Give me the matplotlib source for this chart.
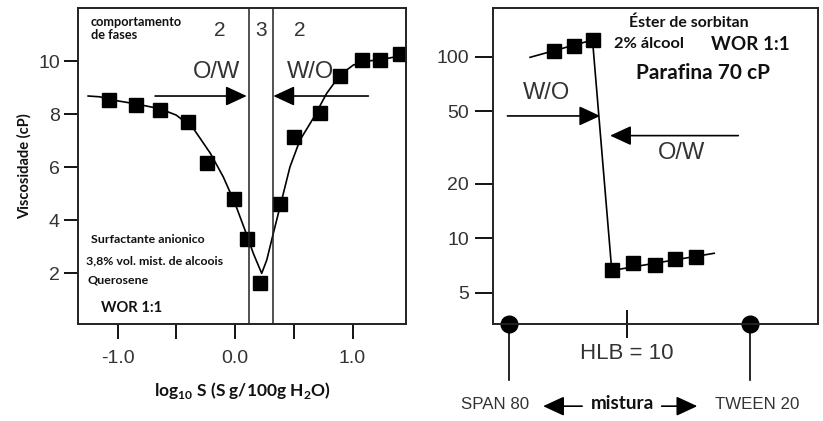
import numpy as np
import matplotlib.pyplot as plt
from matplotlib.transforms import blended_transform_factory

plt.rcParams['font.family'] = ['Liberation Sans', 'DejaVu Sans']
plt.rcParams['mathtext.fontset'] = 'custom'
plt.rcParams['mathtext.rm'] = 'Lato:bold'
plt.rcParams['mathtext.bf'] = 'Lato:bold'

# left panel: viscosity vs log10 S
log_s = [-1.07, -0.84, -0.64, -0.40, -0.24, -0.01, 0.10, 0.21, 0.38, 0.50, 0.72, 0.89, 1.08, 1.23, 1.40]
visc = [8.53, 8.34, 8.15, 7.71, 6.16, 4.79, 3.27, 1.61, 4.60, 7.14, 8.05, 9.43, 10.04, 10.04, 10.25]
# hand-drawn trend curve
curve_x = [-1.25, -1.15, -1.07, -0.84, -0.64, -0.50, -0.355, -0.21, -0.10, 0.0, 0.085, 0.156, 0.227,
           0.27, 0.326, 0.397, 0.468, 0.553, 0.666, 0.78, 0.894, 1.007, 1.12, 1.23, 1.447]
curve_y = [8.68, 8.65, 8.55, 8.38, 8.2, 7.96, 7.46, 6.52, 5.63, 4.63, 3.62, 2.74, 1.99,
           2.49, 3.50, 4.75, 6.01, 7.02, 7.84, 8.78, 9.47, 9.85, 10.0, 10.04, 10.23]
phase_bounds = [0.12, 0.32]

# right panel: viscosity vs SPAN/TWEEN mixture
mix = [0.188, 0.271, 0.346, 0.426, 0.516, 0.606, 0.689, 0.776]
visc2 = [107.8, 114.8, 123.3, 6.64, 7.28, 7.13, 7.66, 7.85]
line2_x = [0.087, 0.346, 0.426, 0.851]
line2_y = [99.0, 123.3, 6.64, 8.26]
hlb10 = 0.49

fig = plt.figure(figsize=(8.23, 4.21), dpi=100)
ax1 = fig.add_axes([0.0948, 0.2304, 0.3985, 0.7506])
ax2 = fig.add_axes([0.5987, 0.2304, 0.3956, 0.7506])

bold = dict(family=['Lato', 'DejaVu Sans'], fontweight='bold', color='#111111')
tick_col = '#333333'

# ---- left panel
ax1.plot(curve_x, curve_y, color='k', lw=1.2)
ax1.plot(log_s, visc, 's', color='k', ms=9.5)
for b in phase_bounds:
    ax1.axvline(b, color='#222222', lw=1.1)
ax1.set_xlim(-1.336, 1.455)
ax1.set_ylim(0.08, 12.0)
ax1.set_xticks([-1.0, -0.5, 0.0, 0.5, 1.0])
ax1.set_xticklabels(['-1.0', '', '0.0', '', '1.0'])
ax1.set_yticks([2, 4, 6, 8, 10])
ax1.tick_params(axis='x', direction='out', length=11, width=1.3, pad=8, labelsize=14, labelcolor=tick_col)
ax1.tick_params(axis='y', direction='out', length=10, width=1.3, pad=3, labelsize=14, labelcolor=tick_col)

arrow = dict(arrowstyle='-|>,head_length=0.65,head_width=0.3', mutation_scale=20, lw=1.2, color='k',
             shrinkA=0, shrinkB=0)
ax1.annotate('', xy=(0.10, 8.68), xytext=(-0.68, 8.68), arrowprops=arrow)
ax1.annotate('', xy=(0.326, 8.68), xytext=(1.135, 8.68), arrowprops=arrow)
ax1.text(-0.156, 9.6, 'O/W', fontsize=17, ha='center', va='center', color=tick_col)
ax1.text(0.64, 9.6, 'W/O', fontsize=17, ha='center', va='center', color=tick_col)
for xx, lab in zip([-0.13, 0.22, 0.55], ['2', '3', '2']):
    ax1.text(xx, 11.17, lab, fontsize=15, ha='center', va='center', color=tick_col)

ax1.text(0.039, 0.975, 'comportamento\nde fases', transform=ax1.transAxes, fontsize=9.2,
         ha='left', va='top', linespacing=1.15, **bold)
ax1.text(0.04, 0.268, 'Surfactante anionico', transform=ax1.transAxes, fontsize=8.9, ha='left', va='center', **bold)
ax1.text(0.025, 0.2, '3,8% vol. mist. de alcoois', transform=ax1.transAxes, fontsize=8.9, ha='left', va='center', **bold)
ax1.text(0.03, 0.138, 'Querosene', transform=ax1.transAxes, fontsize=8.9, ha='left', va='center', **bold)
ax1.text(0.07, 0.05, 'WOR 1:1', transform=ax1.transAxes, fontsize=10.6, ha='left', va='center', **bold)

ax1.set_ylabel('Viscosidade (cP)', fontsize=10.5, labelpad=5, **bold)
ax1.set_xlabel(r'log$_{\mathbf{10}}$ S (S g/100g H$_{\mathbf{2}}$O)', fontsize=12.5, labelpad=9, **bold)

# ---- right panel
ax2.set_yscale('log')
ax2.plot(line2_x, line2_y, color='k', lw=1.2)
ax2.plot(mix, visc2, 's', color='k', ms=9.5)
ax2.set_xlim(-0.068, 1.283)
ax2.set_ylim(3.37, 185)
ax2.set_yticks([5, 10, 20, 50, 100])
ax2.set_yticklabels(['5', '10', '20', '50', '100'])
ax2.minorticks_off()
ax2.set_xticks([hlb10])
ax2.set_xticklabels(['HLB = 10'])
ax2.tick_params(axis='y', direction='out', length=13, width=1.3, pad=4, labelsize=14, labelcolor=tick_col)
ax2.tick_params(axis='x', direction='inout', length=20, width=1.3, pad=4, labelsize=16, labelcolor=tick_col)

ax2.annotate('', xy=(0.378, 47.1), xytext=(-0.007, 47.1), arrowprops=arrow)
ax2.annotate('', xy=(0.419, 36.7), xytext=(0.951, 36.7), arrowprops=arrow)
ax2.text(0.156, 62.8, 'W/O', fontsize=17, ha='center', va='center', color=tick_col)
ax2.text(0.717, 29.4, 'O/W', fontsize=17, ha='center', va='center', color=tick_col)

ax2.text(0.602, 0.953, 'Éster de sorbitan', transform=ax2.transAxes, fontsize=11.4, ha='center', va='center', **bold)
ax2.text(0.48, 0.885, '2% álcool', transform=ax2.transAxes, fontsize=11.8, ha='center', va='center', **bold)
ax2.text(0.79, 0.885, 'WOR 1:1', transform=ax2.transAxes, fontsize=13.6, ha='center', va='center', **bold)
ax2.text(0.647, 0.795, 'Parafina 70 cP', transform=ax2.transAxes, fontsize=15, ha='center', va='center', **bold)

# end points of the mixture axis
trans = blended_transform_factory(ax2.transData, ax2.transAxes)
for xx in [0.0, 1.0]:
    ax2.plot([xx, xx], [0, -0.177], color='k', lw=1.2, transform=trans, clip_on=False)
    ax2.plot([xx], [0], 'o', color='k', ms=12, transform=trans, clip_on=False)
ax2.text(-0.057, -0.256, 'SPAN 80', transform=trans, fontsize=12.2, ha='center', va='center', color=tick_col)
ax2.text(1.03, -0.256, 'TWEEN 20', transform=trans, fontsize=12.2, ha='center', va='center', color=tick_col)
ax2.text(0.47, -0.25, 'mistura', transform=trans, fontsize=13.6, ha='center', va='center', **bold)
ax2.annotate('', xy=(0.141, -0.26), xytext=(0.303, -0.26), xycoords=trans, textcoords=trans,
             arrowprops=arrow, annotation_clip=False)
ax2.annotate('', xy=(0.781, -0.26), xytext=(0.633, -0.26), xycoords=trans, textcoords=trans,
             arrowprops=arrow, annotation_clip=False)

for ax in (ax1, ax2):
    for sp in ax.spines.values():
        sp.set_linewidth(1.4)
        sp.set_color('#222222')

fig.savefig('out.png', dpi=100)
